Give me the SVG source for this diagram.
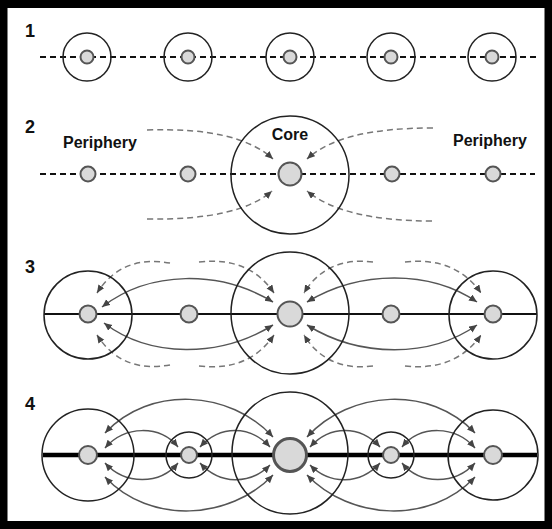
<svg xmlns="http://www.w3.org/2000/svg" width="552" height="529" viewBox="0 0 552 529">
<defs>
<style>
.lbl{font-family:"Liberation Sans",Arial,sans-serif;font-weight:bold;fill:#111}
.num{font-size:18px}
.txt{font-size:16px}
.ring{fill:none;stroke:#222;stroke-width:1.5}
.node{fill:#d9d9d9;stroke:#555;stroke-width:2}
.dline{stroke:#111;stroke-width:2;stroke-dasharray:6 4;fill:none}
.darr{fill:none;stroke:#777;stroke-width:1.5;stroke-dasharray:6 4;marker-end:url(#ah)}
.sarr{fill:none;stroke:#555;stroke-width:1.5;marker-end:url(#ah);marker-start:url(#ah)}
</style>
<marker id="ah" markerUnits="userSpaceOnUse" markerWidth="9" markerHeight="8" refX="8" refY="3.5" orient="auto-start-reverse">
<path d="M0,0 L8,3.5 L0,7 z" fill="#444"/>
</marker>
</defs>
<rect x="3.5" y="4" width="545" height="521" fill="#fff" stroke="#000" stroke-width="8"/>

<g id="labels">
<text class="lbl num" x="25" y="37">1</text>
<text class="lbl num" x="25" y="133">2</text>
<text class="lbl num" x="25" y="273">3</text>
<text class="lbl num" x="25" y="410">4</text>
<text class="lbl txt" x="63" y="148">Periphery</text>
<text class="lbl txt" x="453" y="146">Periphery</text>
<text class="lbl txt" x="290" y="140" text-anchor="middle">Core</text>
</g>

<g id="connectors">
<line class="dline" x1="40" y1="57" x2="537" y2="57"/>
<line class="dline" x1="40" y1="174" x2="535" y2="174"/>
<line x1="44" y1="314" x2="537" y2="314" stroke="#111" stroke-width="2"/>
<line x1="43" y1="455" x2="537" y2="455" stroke="#000" stroke-width="4.5"/>
<!-- panel 2 -->
<path class="darr" d="M147,130 C210,128 250,138 273,159"/>
<path class="darr" d="M147,219 C210,220 250,210 272,191"/>
<path class="darr" d="M433,128 C370,128 330,138 307,159"/>
<path class="darr" d="M432,221 C370,221 330,210 307,191"/>
<!-- panel 3 dashed -->
<path class="darr" d="M170,263 C140,258 115,265 97,293"/>
<path class="darr" d="M199,262 C235,258 258,270 274,293"/>
<path class="darr" d="M373,262 C340,258 318,270 304,293"/>
<path class="darr" d="M405,262 C440,258 465,270 481,293"/>
<path class="darr" d="M170,365 C140,370 115,363 97,335"/>
<path class="darr" d="M199,366 C235,370 258,358 274,335"/>
<path class="darr" d="M373,366 C340,370 318,358 304,335"/>
<path class="darr" d="M405,366 C440,370 465,358 481,335"/>
<!-- panel 3 solid -->
<path class="sarr" d="M102,307 C150,270 220,270 273,302"/>
<path class="sarr" d="M104,323 C150,358 220,358 273,325"/>
<path class="sarr" d="M477,302 C430,270 360,270 307,302"/>
<path class="sarr" d="M477,325 C430,358 360,358 307,325"/>
<!-- panel 4 -->
<path class="sarr" d="M105,433 C150,385 230,390 273,437"/>
<path class="sarr" d="M105,477 C150,525 230,520 273,475"/>
<path class="sarr" d="M105,448 C125,425 160,425 178,447"/>
<path class="sarr" d="M105,463 C125,485 160,485 178,463"/>
<path class="sarr" d="M200,447 C220,425 250,425 270,447"/>
<path class="sarr" d="M200,463 C220,485 250,485 270,465"/>
<path class="sarr" d="M475,433 C430,385 350,390 307,437"/>
<path class="sarr" d="M475,477 C430,525 350,520 307,475"/>
<path class="sarr" d="M475,448 C455,425 420,425 402,447"/>
<path class="sarr" d="M475,463 C455,485 420,485 402,463"/>
<path class="sarr" d="M380,447 C360,425 330,425 310,447"/>
<path class="sarr" d="M380,463 C360,485 330,485 310,465"/>
</g>

<g id="p1">
<g id="p1n1"><circle class="ring" cx="87" cy="57" r="24"/><circle class="node" cx="87" cy="57" r="6.5"/></g>
<g id="p1n2"><circle class="ring" cx="188" cy="57" r="24"/><circle class="node" cx="188" cy="57" r="6.5"/></g>
<g id="p1n3"><circle class="ring" cx="290" cy="57" r="24"/><circle class="node" cx="290" cy="57" r="6.5"/></g>
<g id="p1n4"><circle class="ring" cx="391" cy="57" r="24"/><circle class="node" cx="391" cy="57" r="6.5"/></g>
<g id="p1n5"><circle class="ring" cx="492" cy="57" r="24"/><circle class="node" cx="492" cy="57" r="6.5"/></g>
</g>

<g id="p2">
<g id="p2n1"><circle class="node" cx="88" cy="174" r="7.5"/></g>
<g id="p2n2"><circle class="node" cx="188" cy="174" r="7.5"/></g>
<g id="p2core"><circle class="ring" cx="290" cy="175" r="59"/><circle class="node" cx="290" cy="174" r="11.5"/></g>
<g id="p2n4"><circle class="node" cx="392" cy="174" r="7.5"/></g>
<g id="p2n5"><circle class="node" cx="493" cy="174" r="7.5"/></g>
</g>

<g id="p3">
<g id="p3n1"><circle class="ring" cx="88" cy="315" r="44"/><circle class="node" cx="88" cy="314" r="8.5"/></g>
<g id="p3n2"><circle class="node" cx="189" cy="314" r="8.5"/></g>
<g id="p3core"><ellipse class="ring" cx="290" cy="313" rx="59" ry="61"/><circle class="node" cx="290" cy="314" r="12.5"/></g>
<g id="p3n4"><circle class="node" cx="391" cy="314" r="8.5"/></g>
<g id="p3n5"><circle class="ring" cx="493" cy="315" r="44"/><circle class="node" cx="493" cy="314" r="8.5"/></g>
</g>

<g id="p4">
<g id="p4n1"><circle class="ring" cx="88" cy="455" r="46"/><circle class="node" cx="88" cy="455" r="9"/></g>
<g id="p4n2"><circle class="ring" cx="189" cy="455" r="23"/><circle class="node" cx="189" cy="455" r="8"/></g>
<g id="p4core"><ellipse class="ring" cx="290" cy="453" rx="58" ry="61"/><circle cx="290" cy="455" r="16.5" fill="#d9d9d9" stroke="#555" stroke-width="3"/></g>
<g id="p4n4"><circle class="ring" cx="391" cy="455" r="23"/><circle class="node" cx="391" cy="455" r="8"/></g>
<g id="p4n5"><circle class="ring" cx="493" cy="455" r="45"/><circle class="node" cx="493" cy="455" r="9"/></g>
</g>
</svg>
